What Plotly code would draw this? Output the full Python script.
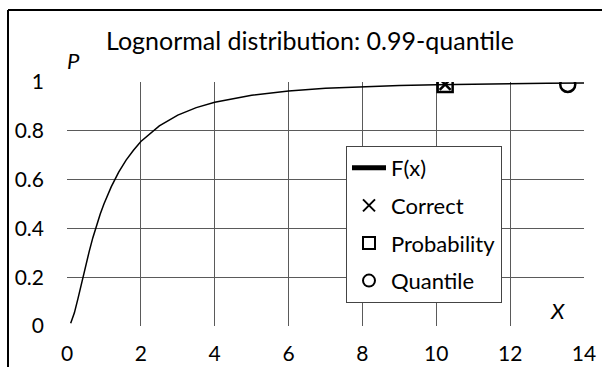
import plotly.graph_objects as go

# Cumulative distribution F(x) of the lognormal distribution
x_vals = [0.1, 0.2, 0.3, 0.4, 0.5, 0.6, 0.7, 0.8, 0.9, 1.0, 1.2, 1.4, 1.6, 1.8,
          2.0, 2.5, 3.0, 3.5, 4.0, 5.0, 6.0, 7.0, 8.0, 9.0, 10.0, 11.0, 12.0, 13.0, 14.0]
f_vals = [0.011, 0.054, 0.114, 0.180, 0.244, 0.305, 0.362, 0.412, 0.459, 0.500,
          0.571, 0.631, 0.680, 0.720, 0.756, 0.820, 0.864, 0.895, 0.917, 0.946,
          0.963, 0.974, 0.981, 0.986, 0.989, 0.992, 0.994, 0.995, 0.996]

# 0.99-quantile estimates
level = 0.99
correct_x = [10.24]
probability_x = [10.24]
quantile_x = [13.56]

x_ticks = [0, 2, 4, 6, 8, 10, 12, 14]
y_ticks = [0, 0.2, 0.4, 0.6, 0.8, 1]
y_tick_text = ["0", "0.2", "0.4", "0.6", "0.8", "1"]

FONT = "Lato"
W, H = 602, 367
L, R, T, B = 67, 18, 82, 41
pw, ph = W - L - R, H - T - B


def px_x(p):
    return (p - L) / pw


def px_y(p):
    return (H - B - p) / ph


fig = go.Figure()
fig.add_trace(go.Scatter(x=x_vals, y=f_vals, mode="lines", name="F(x)",
                         line=dict(color="black", width=1.5), legendgroup="a"))
fig.add_trace(go.Scatter(x=correct_x, y=[level], mode="markers", name="Correct",
                         marker=dict(symbol="x-thin", size=11, color="black",
                                     line=dict(color="black", width=2.5)),
                         legendgroup="b"))
fig.add_trace(go.Scatter(x=probability_x, y=[level], mode="markers", name="Probability",
                         marker=dict(symbol="square-open", size=15, color="black",
                                     line=dict(color="black", width=2.5)),
                         legendgroup="c"))
fig.add_trace(go.Scatter(x=quantile_x, y=[level], mode="markers", name="Quantile",
                         marker=dict(symbol="circle-open", size=15, color="black",
                                     line=dict(color="black", width=2.5)),
                         legendgroup="d"))

axis_common = dict(showgrid=True, gridcolor="#5a5a5a", gridwidth=1,
                   zeroline=False, showline=False, ticks="", automargin=False,
                   tickfont=dict(family=FONT, size=21, color="black"),
                   fixedrange=True)

fig.update_layout(
    width=W, height=H,
    margin=dict(l=L, r=R, t=T, b=B, autoexpand=False),
    paper_bgcolor="white", plot_bgcolor="white",
    font=dict(family=FONT, color="black"),
    title=dict(text="Lognormal distribution: 0.99-quantile",
               font=dict(family=FONT, size=25, color="black"),
               x=310 / W, xanchor="center", y=1 - 41 / H, yanchor="middle"),
    xaxis=dict(range=[0, 14], tickvals=x_ticks, ticklabelstandoff=13, **axis_common),
    yaxis=dict(range=[0, 1], tickvals=y_ticks, ticktext=y_tick_text,
               ticklabelstandoff=22, **axis_common),
    legend=dict(x=px_x(346), y=px_y(146), xanchor="left", yanchor="top",
                bgcolor="white", bordercolor="#444444", borderwidth=1,
                font=dict(family=FONT, size=22, color="black"),
                itemsizing="constant", itemwidth=34, tracegroupgap=6,
                traceorder="grouped"),
    showlegend=True,
    annotations=[
        dict(text="<i>P</i>", xref="paper", yref="paper", x=px_x(73), y=px_y(61),
             xanchor="center", yanchor="middle", showarrow=False,
             font=dict(family=FONT, size=22, color="black")),
        dict(text="<i>X</i>", xref="paper", yref="paper", x=px_x(557), y=px_y(310),
             xanchor="center", yanchor="middle", showarrow=False,
             font=dict(family=FONT, size=22, color="black")),
    ],
    shapes=[
        dict(type="line", xref="paper", yref="paper", x0=px_x(8), x1=px_x(8),
             y0=px_y(10), y1=px_y(380), line=dict(color="black", width=2)),
        dict(type="line", xref="paper", yref="paper", x0=px_x(8), x1=px_x(620),
             y0=px_y(10), y1=px_y(10), line=dict(color="black", width=2)),
    ],
)

fig.write_html("out.html")
